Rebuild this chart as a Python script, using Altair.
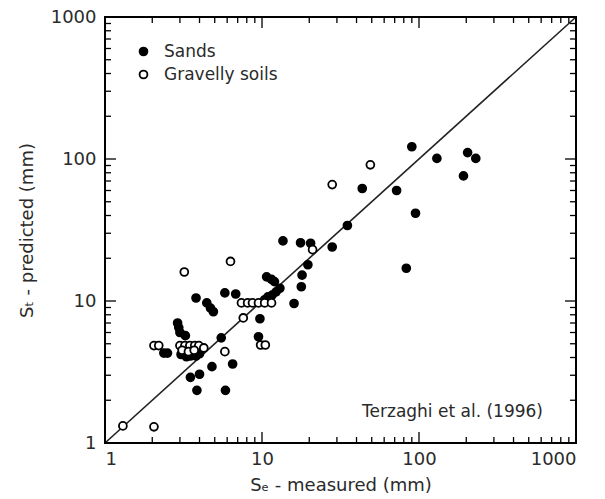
import altair as alt
import pandas as pd

# Settlement measurements (mm)
sands_measured = [3.8, 4.45, 4.7, 4.9, 5.8, 6.8, 9.7, 9.5, 2.9, 2.95, 3.0, 3.25, 2.37, 2.5,
                  3.05, 3.3, 3.5, 3.8, 4.0, 5.5, 4.8, 6.5, 3.5, 4.0, 3.85, 5.85, 16, 13.6,
                  17.6, 20.4, 28, 35, 19.6, 18, 17.8, 10.7, 11.5, 12.0, 13, 12.3, 11.6, 10.9,
                  10.4, 90, 130, 204, 230, 192, 43.5, 72, 95, 83]
sands_predicted = [10.5, 9.7, 8.9, 8.4, 11.4, 11.2, 7.5, 5.6, 7.0, 6.5, 6.0, 5.7, 4.3, 4.3,
                   4.2, 4.05, 4.1, 4.1, 4.25, 5.5, 3.45, 3.6, 2.9, 3.05, 2.35, 2.35, 9.6, 26.5,
                   25.7, 25.5, 24, 34, 18, 15.2, 12.6, 14.8, 14.2, 13.7, 12.3, 11.6, 11.0, 10.7,
                   10.2, 122, 101, 111, 101, 76, 62, 60, 41.5, 17]

gravel_measured = [7.4, 8.1, 8.7, 9.5, 10.4, 11.5, 9.8, 10.5, 2.05, 2.2, 3.0, 3.23, 3.47,
                   3.73, 3.96, 4.26, 3.1, 3.4, 3.7, 5.8, 7.6, 2.05, 1.3, 28, 6.3, 49, 21, 3.2]
gravel_predicted = [9.7, 9.7, 9.7, 9.7, 9.7, 9.7, 4.9, 4.9, 4.85, 4.85, 4.85, 4.85, 4.85,
                    4.85, 4.85, 4.67, 4.5, 4.4, 4.5, 4.4, 7.6, 1.3, 1.32, 66, 19, 91, 23, 16]

soil_types = ["Sands", "Gravelly soils"]

# Axis tick values on the log scales
major_ticks = [1, 10, 100, 1000]
minor_ticks = [m * d for d in (1, 10, 100) for m in range(2, 10)]

# 1:1 reference line
line_x = [1, 1000]
line_y = [1, 1000]

W, H = 471, 426
MAJOR_LEN, MINOR_LEN = 11, 6

points = pd.DataFrame({
    "measured": sands_measured + gravel_measured,
    "predicted": sands_predicted + gravel_predicted,
    "soil": [soil_types[0]] * len(sands_measured) + [soil_types[1]] * len(gravel_measured),
})

xscale = alt.Scale(type="log", domain=[1, 1000], nice=False)
yscale = alt.Scale(type="log", domain=[1, 1000], nice=False)

FONT = "DejaVu Sans"
LABEL_COLOR = "#2a2a2a"

x_axis = alt.Axis(values=major_ticks, format="d", ticks=False, domain=False, grid=False,
                  labelFontSize=18, labelFont=FONT, labelColor=LABEL_COLOR, labelPadding=7,
                  title="Sₑ - measured (mm)", titleFontSize=18, titleFont=FONT,
                  titleFontWeight="normal", titleColor=LABEL_COLOR, titlePadding=8)
y_axis = alt.Axis(values=major_ticks, format="d", ticks=False, domain=False, grid=False,
                  labelFontSize=18, labelFont=FONT, labelColor=LABEL_COLOR, labelPadding=9,
                  title="Sₜ - predicted (mm)", titleFontSize=18, titleFont=FONT,
                  titleFontWeight="normal", titleColor=LABEL_COLOR, titlePadding=14)

base_x = alt.X("measured:Q", scale=xscale, axis=x_axis)
base_y = alt.Y("predicted:Q", scale=yscale, axis=y_axis)

diag = alt.Chart(pd.DataFrame({"measured": line_x, "predicted": line_y})).mark_line(
    color="#222", strokeWidth=1.6
).encode(x=base_x, y=base_y)

scatter = alt.Chart(points).mark_point(
    shape="circle", filled=True, stroke="black", strokeWidth=1.8, size=62, opacity=1
).encode(
    x=alt.X("measured:Q", scale=xscale),
    y=alt.Y("predicted:Q", scale=yscale),
    fill=alt.Fill("soil:N", scale=alt.Scale(domain=soil_types, range=["black", "white"]),
                  sort=soil_types,
                  legend=alt.Legend(title=None, orient="none", legendX=30, legendY=26,
                                    labelFontSize=17, labelFont=FONT, labelColor=LABEL_COLOR,
                                    symbolType="circle", symbolSize=62,
                                    symbolStrokeColor="black", symbolStrokeWidth=1.8,
                                    rowPadding=5, labelOffset=12)),
)


def tick_layer(values, field, length, side):
    df = pd.DataFrame({field: values})
    c = alt.Chart(df).mark_rule(color="black", strokeWidth=1.3)
    if field == "measured":
        x = alt.X("measured:Q", scale=xscale)
        if side == "bottom":
            return c.encode(x=x, y=alt.value(H), y2=alt.value(H - length))
        return c.encode(x=x, y=alt.value(0), y2=alt.value(length))
    y = alt.Y("predicted:Q", scale=yscale)
    if side == "left":
        return c.encode(y=y, x=alt.value(0), x2=alt.value(length))
    return c.encode(y=y, x=alt.value(W), x2=alt.value(W - length))


ticks = []
for side in ("bottom", "top"):
    ticks.append(tick_layer(major_ticks, "measured", MAJOR_LEN, side))
    ticks.append(tick_layer(minor_ticks, "measured", MINOR_LEN, side))
for side in ("left", "right"):
    ticks.append(tick_layer(major_ticks, "predicted", MAJOR_LEN, side))
    ticks.append(tick_layer(minor_ticks, "predicted", MINOR_LEN, side))

source = alt.Chart(pd.DataFrame({"t": ["Terzaghi et al. (1996)"]})).mark_text(
    align="right", baseline="middle", fontSize=17, font=FONT, color=LABEL_COLOR
).encode(text="t:N", x=alt.value(438), y=alt.value(395))

chart = alt.layer(diag, *ticks, scatter, source).properties(
    width=W, height=H,
    padding={"left": 105, "top": 17, "right": 29, "bottom": 56},
    autosize=alt.AutoSizeParams(type="none"),
    background="white",
).configure_view(stroke="black", strokeWidth=2)

chart.save("out.html", embed_options={"renderer": "svg", "actions": False})
